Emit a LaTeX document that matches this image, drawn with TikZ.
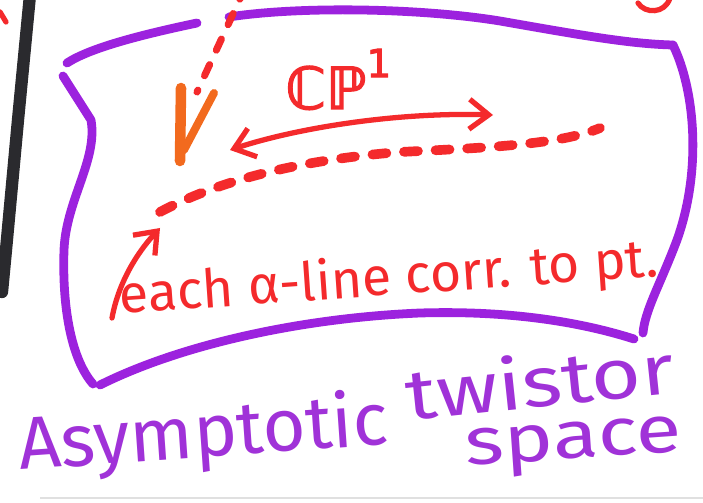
\documentclass[tikz,border=0pt]{standalone}
\usepackage{fontspec}
\setmainfont{Fira Sans}
\newfontfamily\cpfont{DejaVu Sans}[FakeBold=2.5]
\usetikzlibrary{arrows.meta}
\definecolor{redpen}{HTML}{F42A2C}
\definecolor{orangepen}{HTML}{F26A1E}
\definecolor{violetpen}{HTML}{9C22DE}
\definecolor{violettext}{HTML}{A032D8}
\definecolor{blackpen}{HTML}{2A2A2E}
\tikzset{
  boxline/.style={violetpen, line width=5pt, line cap=round, line join=round},
  redstroke/.style={redpen, line width=3pt, line cap=round},
  dashline/.style={redpen, line width=4pt, line cap=round, dash pattern=on 7pt off 9pt},
  dotline/.style={redpen, line width=5.5pt, line cap=round, dash pattern=on 8pt off 10pt},
  barbtip/.tip={Straight Barb[length=11pt,width=17pt,line width=3pt]},
  redtext/.style={text=redpen, inner sep=0pt},
  violtext/.style={text=violettext, inner sep=0pt}
}
\begin{document}
\begin{tikzpicture}[x=0.02cm,y=-0.02cm]
\useasboundingbox (0,0) rectangle (703,503);
\fill[white] (0,0) rectangle (703,503);
% faint board edge
\draw[black!12, line width=1pt] (40,498) -- (703,498);
% black marker stroke at left edge
\draw[blackpen, line width=7pt, line cap=round] (30,-5) -- (18,120) -- (6,250) -- (2,292);
% small red marks at the picture edges
\draw[redstroke] (0,12) -- (6,22);
\draw[redstroke] (638,3) .. controls (645,14) and (665,14) .. (670,-2);
% purple box (asymptotic twistor space)
\draw[boxline] (67,63) .. controls (90,48) and (140,35) .. (197,23);
\draw[boxline] (229,17) .. controls (300,6) and (420,8) .. (500,21) .. controls (580,35) and (630,44) .. (673,45);
\draw[boxline] (673,45) .. controls (695,90) and (702,170) .. (677,240) .. controls (660,285) and (645,310) .. (643,333);
\draw[boxline] (634,339) .. controls (590,325) and (520,310) .. (420,313) .. controls (300,318) and (180,345) .. (100,385);
\draw[boxline] (93,384) .. controls (72,360) and (62,310) .. (64,250) .. controls (66,200) and (98,160) .. (91,120) -- (63,76);
% incoming dashed red line with orange arrowhead
\coordinate (inA) at (245,-12);
\coordinate (inB) at (197,92);
\coordinate (tip) at (180,161);
\draw[dashline] (inA) -- (inB);
\draw[orangepen, line width=6pt, line cap=round] (181,88) -- (tip);
\draw[orangepen, line width=4.5pt, line cap=round] (214,93) -- (184,150);
% CP^1 label and double arrow
\node[redtext, anchor=base west, font=\cpfont\fontsize{33}{40}\selectfont] (cp) at (285,109) {ℂℙ\raisebox{0.55em}{\fontsize{22}{26}\selectfont 1}};
\coordinate (dl) at (230,150);
\coordinate (dr) at (493,115);
\draw[redstroke, barbtip-barbtip] (dl) .. controls (300,127) and (400,112) .. (dr);
% dotted alpha-line
\coordinate (l0) at (160,212);
\coordinate (l1) at (600,128);
\draw[dotline] (l0) .. controls (220,180) and (300,160) .. (400,152) .. controls (480,148) and (560,145) .. (l1);
% label with pointer
\node[redtext, anchor=base west, rotate=4, font=\fontsize{30.5}{36}\selectfont] (each) at (120,314) {each α-line corr. to pt.};
\coordinate (p0) at (112,318);
\coordinate (p1) at (160,228);
\draw[redstroke, -barbtip] (p0) .. controls (118,285) and (135,255) .. (p1);
% title
\node[violtext, anchor=base west, rotate=4, font=\fontsize{42}{48}\selectfont] (t1) at (20,470) {Asymptotic};
\node[violtext, anchor=base west, rotate=6, xscale=1.22, font=\fontsize{40}{46}\selectfont] (t2) at (408,421) {twistor};
\node[violtext, anchor=base west, rotate=4, xscale=1.25, font=\fontsize{38}{44}\selectfont] (t3) at (466,466) {space};
\end{tikzpicture}
\end{document}
